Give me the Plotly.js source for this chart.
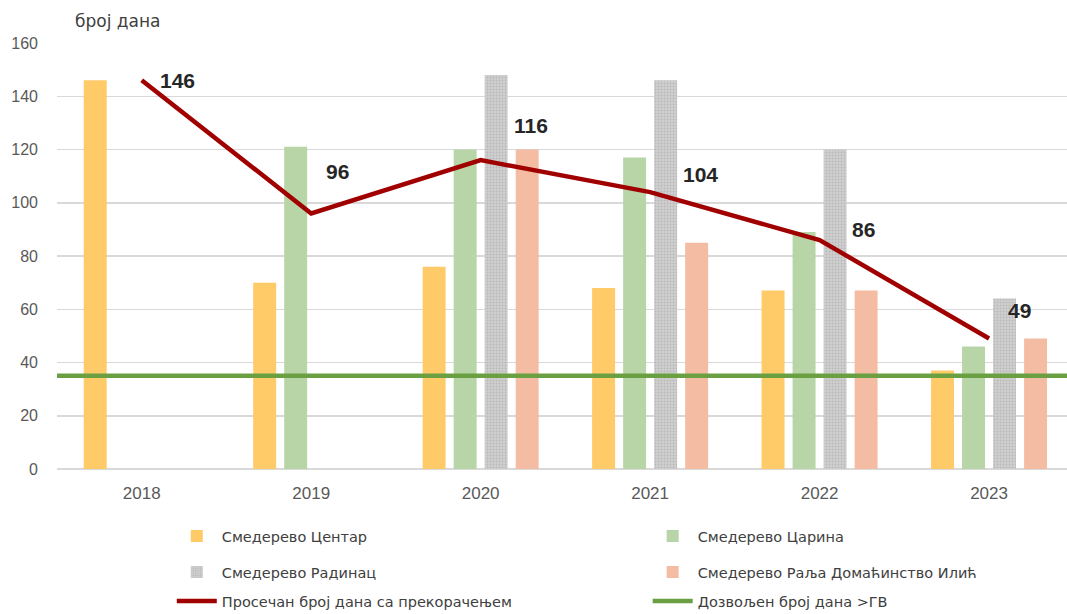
<!DOCTYPE html>
<html>
<head>
<meta charset="utf-8">
<script src="https://cdn.plot.ly/plotly-3.0.1.min.js"></script>
<style>html,body{margin:0;padding:0;overflow:hidden;background:#fff}#chart{width:1067px;height:614px}</style>
</head>
<body>
<div id="chart"></div>
<script>
// ---- data ----
const years = ['2018', '2019', '2020', '2021', '2022', '2023'];
const centar = [146, 70, 76, 68, 67, 37];
const carina = [null, 121, 120, 117, 89, 46];
const radinac = [null, null, 148, 146, 120, 64];
const ralja = [null, null, 120, 85, 67, 49];
const average = [146, 96, 116, 104, 86, 49];
const allowed = 35;
const seriesNames = ['Смедерево Центар', 'Смедерево Царина', 'Смедерево Радинац', 'Смедерево Раља Домаћинство Илић',
  'Просечан број дана са прекорачењем', 'Дозвољен број дана >ГВ'];
const yTicks = [0, 20, 40, 60, 80, 100, 120, 140, 160];
const yTitle = 'број дана';

// ---- style ----
const TICKFONT = "'Liberation Sans', Arial, sans-serif";
const TEXTFONT = "'DejaVu Sans', sans-serif";
const labelShift = [[16, 0], [13, 42], [31, 35], [31, 18], [30, 11], [17, 28]];
const legendKeys = ['legend', 'legend2', 'legend3', 'legend4', 'legend5', 'legend6'];
const legendX = [0.161, 0.607];
const legendY = [0.127, 0.0684, 0.0212];

const traces = [
  {type: 'bar', x: years, y: centar, name: seriesNames[0], marker: {color: '#FFCA68'}},
  {type: 'bar', x: years, y: carina, name: seriesNames[1], marker: {color: '#B7D5A6'}},
  {type: 'bar', x: years, y: radinac, name: seriesNames[2],
    marker: {color: '#C9C9C9', pattern: {shape: '.', fgcolor: '#B8B8B8', bgcolor: '#D0D0D0', size: 3, solidity: 0.3}}},
  {type: 'bar', x: years, y: ralja, name: seriesNames[3], marker: {color: '#F4BCA2'}},
  {type: 'scatter', mode: 'lines', x: years, y: average, name: seriesNames[4],
    line: {color: '#A00000', width: 4.5}},
  {type: 'scatter', mode: 'lines', x: [0, 1], y: [allowed, allowed], xaxis: 'x2', name: seriesNames[5],
    line: {color: '#6A9F42', width: 4.5}}
];
traces.forEach((t, i) => { t.legend = legendKeys[i]; });

const annotations = average.map((v, i) => ({
  x: i, y: v, xref: 'x', yref: 'y', text: String(v), showarrow: false,
  xanchor: 'left', yanchor: 'middle', xshift: labelShift[i][0], yshift: labelShift[i][1],
  font: {family: TICKFONT, size: 21, color: '#262626', weight: 'bold'}
}));
annotations.push({
  xref: 'paper', yref: 'paper', x: 0.016, y: 1.0516, xanchor: 'left', yanchor: 'middle',
  text: yTitle, showarrow: false, font: {family: TEXTFONT, size: 17, color: '#404040'}
});

const layout = {
  width: 1067, height: 614,
  margin: {l: 57, r: 0, t: 43, b: 145, autoexpand: false},
  paper_bgcolor: '#fff', plot_bgcolor: '#fff',
  barmode: 'group', bargap: 0.268, bargroupgap: 0.26,
  font: {family: TICKFONT, color: '#595959'},
  xaxis: {type: 'category', range: [-0.5, 5.46], autorange: false, showgrid: false, zeroline: false,
    showline: false, ticks: '', tickfont: {family: TICKFONT, size: 17, color: '#595959'}, ticklabelstandoff: 12},
  xaxis2: {type: 'linear', overlaying: 'x', anchor: 'y', range: [0, 1], autorange: false,
    showticklabels: false, showgrid: false, zeroline: false, showline: false, ticks: ''},
  yaxis: {range: [0, 160], autorange: false, tickvals: yTicks, showgrid: true, gridcolor: '#D9D9D9', gridwidth: 1.5,
    zeroline: true, zerolinecolor: '#D9D9D9', zerolinewidth: 1.5, showline: false, ticks: '',
    tickfont: {family: TICKFONT, size: 16, color: '#595959'}, ticklabelstandoff: 18},
  showlegend: true,
  annotations: annotations
};
legendKeys.forEach((k, i) => {
  layout[k] = {
    orientation: 'h', xref: 'container', yref: 'container', xanchor: 'left', yanchor: 'middle',
    x: legendX[i % 2], y: legendY[Math.floor(i / 2)],
    font: {family: TEXTFONT, size: 14.5, color: '#404040'}, bgcolor: 'rgba(0,0,0,0)',
    itemwidth: 40, itemclick: false
  };
});

Plotly.newPlot('chart', traces, layout, {displayModeBar: false, staticPlot: true});
</script>
</body>
</html>
